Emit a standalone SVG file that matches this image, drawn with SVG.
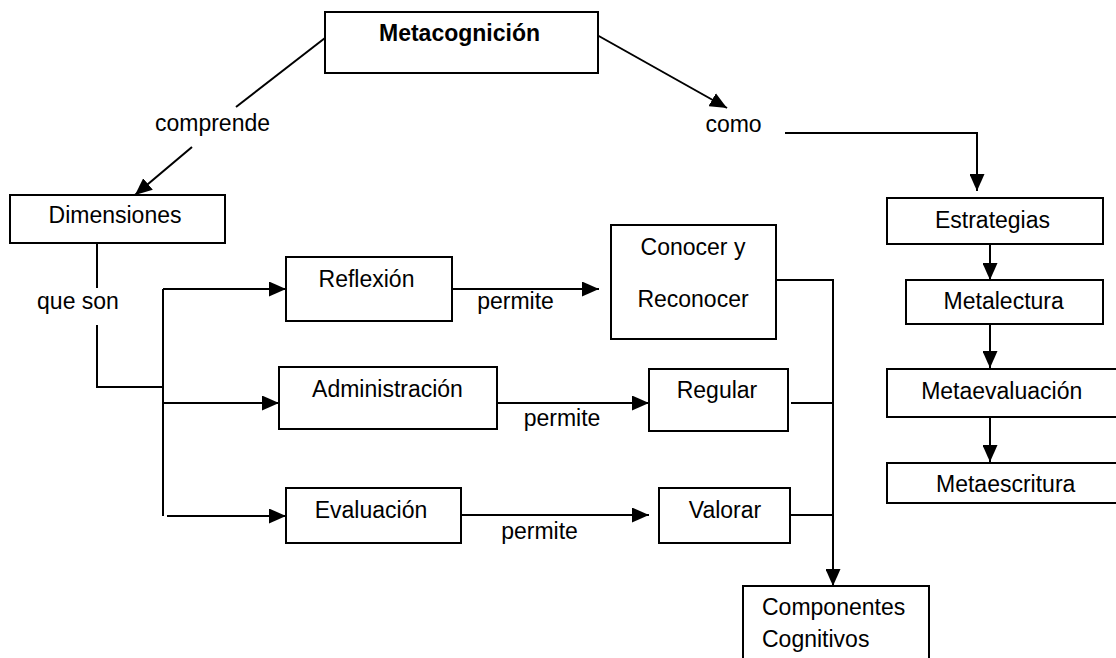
<svg xmlns="http://www.w3.org/2000/svg" width="1116" height="658" viewBox="0 0 1116 658">
<style>
.box{fill:#fff;stroke:#000;stroke-width:2}
.t{font-family:"Liberation Sans",Arial,sans-serif;font-size:23px;fill:#000}
.m{text-anchor:middle}
.b{font-weight:bold}
.c{fill:none;stroke:#000;stroke-width:2}
</style>
<defs>
<marker id="ah" markerUnits="userSpaceOnUse" markerWidth="17" markerHeight="15" refX="17" refY="7.5" orient="auto">
<path d="M0,0 L17,7.5 L0,15 z" fill="#000"/>
</marker>
</defs>
<rect width="1116" height="658" fill="#fff"/>
<g id="connectors">
<line class="c" x1="325" y1="38" x2="236" y2="107"/>
<line class="c" x1="192" y1="147" x2="135" y2="195" marker-end="url(#ah)"/>
<line class="c" x1="597" y1="35" x2="727" y2="108" marker-end="url(#ah)"/>
<polyline class="c" points="785,133 977,133 977,191" marker-end="url(#ah)"/>
<line class="c" x1="990" y1="244" x2="990" y2="280" marker-end="url(#ah)"/>
<line class="c" x1="990" y1="324" x2="990" y2="368" marker-end="url(#ah)"/>
<line class="c" x1="990" y1="417" x2="990" y2="462" marker-end="url(#ah)"/>
<line class="c" x1="97" y1="243" x2="97" y2="288"/>
<polyline class="c" points="97,325 97,387 163,387"/>
<line class="c" x1="163" y1="289" x2="163" y2="516"/>
<line class="c" x1="163" y1="289" x2="286" y2="289" marker-end="url(#ah)"/>
<line class="c" x1="163" y1="403" x2="279" y2="403" marker-end="url(#ah)"/>
<line class="c" x1="167" y1="516" x2="286" y2="516" marker-end="url(#ah)"/>
<line class="c" x1="452" y1="289" x2="599" y2="289" marker-end="url(#ah)"/>
<line class="c" x1="497" y1="403" x2="649" y2="403" marker-end="url(#ah)"/>
<line class="c" x1="461" y1="515" x2="649" y2="515" marker-end="url(#ah)"/>
<polyline class="c" points="776,280 833,280 833,586" marker-end="url(#ah)"/>
<line class="c" x1="791" y1="403" x2="833" y2="403"/>
<line class="c" x1="790" y1="515" x2="833" y2="515"/>
<text class="t m" x="212.5" y="131">comprende</text>
<text class="t m" x="733.5" y="132">como</text>
<text class="t m" x="78" y="309">que son</text>
<text class="t m" x="515.5" y="309">permite</text>
<text class="t m" x="562" y="426">permite</text>
<text class="t m" x="539.5" y="539">permite</text>
</g>
<g id="metacognicion"><rect class="box" x="325" y="12" width="273" height="61"/><text class="t m b" x="459.5" y="41">Metacognición</text></g>
<g id="dimensiones"><rect class="box" x="10" y="195" width="215" height="48"/><text class="t m" x="115" y="223">Dimensiones</text></g>
<g id="reflexion"><rect class="box" x="286" y="257" width="166" height="64"/><text class="t m" x="366.5" y="287">Reflexión</text></g>
<g id="administracion"><rect class="box" x="279" y="367" width="218" height="62"/><text class="t m" x="387.5" y="397">Administración</text></g>
<g id="evaluacion"><rect class="box" x="286" y="488" width="175" height="55"/><text class="t m" x="371" y="518">Evaluación</text></g>
<g id="conocer"><rect class="box" x="611" y="225" width="165" height="114"/><text class="t m" x="693" y="255">Conocer y</text><text class="t m" x="693" y="307">Reconocer</text></g>
<g id="regular"><rect class="box" x="649" y="369" width="139" height="62"/><text class="t m" x="717" y="398">Regular</text></g>
<g id="valorar"><rect class="box" x="659" y="488" width="131" height="55"/><text class="t m" x="725" y="518">Valorar</text></g>
<g id="componentes"><rect class="box" x="743" y="586" width="186" height="90"/><text class="t" x="762" y="615">Componentes</text><text class="t" x="762" y="647">Cognitivos</text></g>
<g id="estrategias"><rect class="box" x="887" y="198" width="216" height="46"/><text class="t m" x="992.5" y="228">Estrategias</text></g>
<g id="metalectura"><rect class="box" x="906" y="280" width="197" height="44"/><text class="t m" x="1003.7" y="309">Metalectura</text></g>
<g id="metaevaluacion"><rect class="box" x="887" y="369" width="235" height="48"/><text class="t m" x="1001.7" y="399">Metaevaluación</text></g>
<g id="metaescritura"><rect class="box" x="887" y="463" width="235" height="40"/><text class="t m" x="1005.7" y="492">Metaescritura</text></g>
</svg>
